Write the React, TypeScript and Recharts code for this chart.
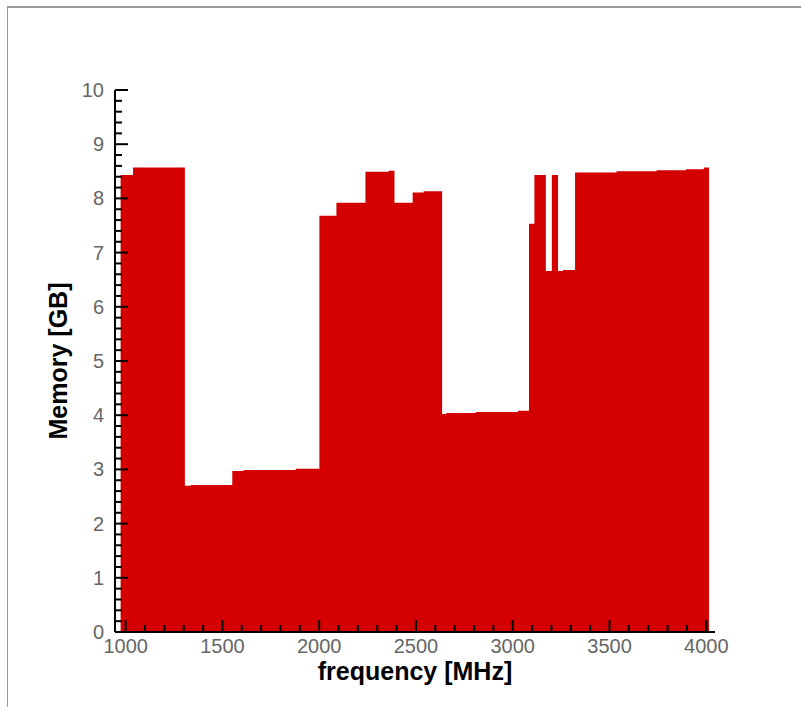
import { AreaChart, Area, XAxis, YAxis, Label } from "recharts";

// step edges of the memory curve (MHz) and the value held from each edge on
const freqEdges = [
  974, 1038, 1306, 1336, 1551, 1610, 1879, 2001, 2089, 2239, 2359, 2389, 2483,
  2540, 2635, 2657, 2809, 3027, 3084, 3112, 3171, 3202, 3234, 3260, 3322, 3536,
  3743, 3894, 3987, 4014,
];
const memoryGB = [
  8.43, 8.57, 2.7, 2.71, 2.97, 2.99, 3.01, 7.68, 7.92, 8.49, 8.51, 7.92, 8.11,
  8.13, 4.02, 4.04, 4.06, 4.08, 7.53, 8.43, 6.66, 8.43, 6.66, 6.68, 8.48, 8.5,
  8.52, 8.54, 8.57, 8.57,
];

const freqTicks = [
  1000, 1100, 1200, 1300, 1400, 1500, 1600, 1700, 1800, 1900, 2000, 2100, 2200,
  2300, 2400, 2500, 2600, 2700, 2800, 2900, 3000, 3100, 3200, 3300, 3400, 3500,
  3600, 3700, 3800, 3900, 4000,
];
const memTicks = Array.from({ length: 51 }, (_, i) => i / 5);

const data = freqEdges.map((f, i) => ({ f, mem: memoryGB[i] }));

const FONT = "'Liberation Sans', Arial, sans-serif";
const RED = "#d40000";

const FreqTick = ({ x, y, payload }: any) => {
  const major = payload.value % 500 === 0;
  return (
    <g>
      <line x1={x} x2={x} y1={y} y2={y - (major ? 12 : 7)} stroke="#000" strokeWidth={2} />
      {major && (
        <text x={x} y={y + 21} textAnchor="middle" fontSize={20} fill="#666" fontFamily={FONT}>
          {payload.value}
        </text>
      )}
    </g>
  );
};

const MemTick = ({ x, y, payload }: any) => {
  const v = payload.value;
  const major = Math.abs(v - Math.round(v)) < 1e-6;
  return (
    <g>
      <line x1={x} x2={x + (major ? 13 : 7)} y1={y} y2={y} stroke="#000" strokeWidth={2} />
      {major && (
        <text x={x - 11} y={y + 7} textAnchor="end" fontSize={20} fill="#666" fontFamily={FONT}>
          {Math.round(v)}
        </text>
      )}
    </g>
  );
};

export default function App() {
  return (
    <div style={{ position: "absolute", left: 0, top: 0, width: 801, height: 707, background: "#fff" }}>
      <div
        style={{
          position: "absolute",
          left: 7,
          top: 6,
          width: 794,
          height: 701,
          borderTop: "2px solid #999",
          borderLeft: "1px solid #999",
          boxSizing: "border-box",
        }}
      />
      <AreaChart
        width={801}
        height={707}
        data={data}
        margin={{ top: 90, right: 86, bottom: 35, left: 55 }}
        style={{ position: "absolute", left: 0, top: 0 }}
      >
        <XAxis
          dataKey="f"
          type="number"
          domain={[945, 4045]}
          ticks={freqTicks}
          interval={0}
          tickSize={0}
          tickMargin={0}
          tickLine={false}
          tick={<FreqTick />}
          axisLine={{ stroke: "#000", strokeWidth: 2 }}
          height={40}
          allowDataOverflow
        >
          <Label
            content={({ viewBox }: any) => (
              <text
                x={viewBox.x + viewBox.width / 2}
                y={viewBox.y + 48}
                textAnchor="middle"
                fontSize={25}
                fontWeight="bold"
                fontFamily={FONT}
                fill="#000"
              >
                frequency [MHz]
              </text>
            )}
          />
        </XAxis>
        <YAxis
          type="number"
          domain={[0, 10]}
          ticks={memTicks}
          interval={0}
          tickSize={0}
          tickMargin={0}
          tickLine={false}
          tick={<MemTick />}
          axisLine={{ stroke: "#000", strokeWidth: 2 }}
          width={60}
          allowDataOverflow
        >
          <Label
            content={({ viewBox }: any) => {
              const cx = 67;
              const cy = viewBox.y + viewBox.height / 2;
              return (
                <text
                  x={cx}
                  y={cy}
                  transform={`rotate(-90 ${cx} ${cy})`}
                  textAnchor="middle"
                  fontSize={25}
                  fontWeight="bold"
                  fontFamily={FONT}
                  fill="#000"
                >
                  Memory [GB]
                </text>
              );
            }}
          />
        </YAxis>
        <Area
          type="stepAfter"
          dataKey="mem"
          stroke="none"
          fill={RED}
          fillOpacity={1}
          baseValue={0}
          isAnimationActive={false}
        />
      </AreaChart>
    </div>
  );
}
